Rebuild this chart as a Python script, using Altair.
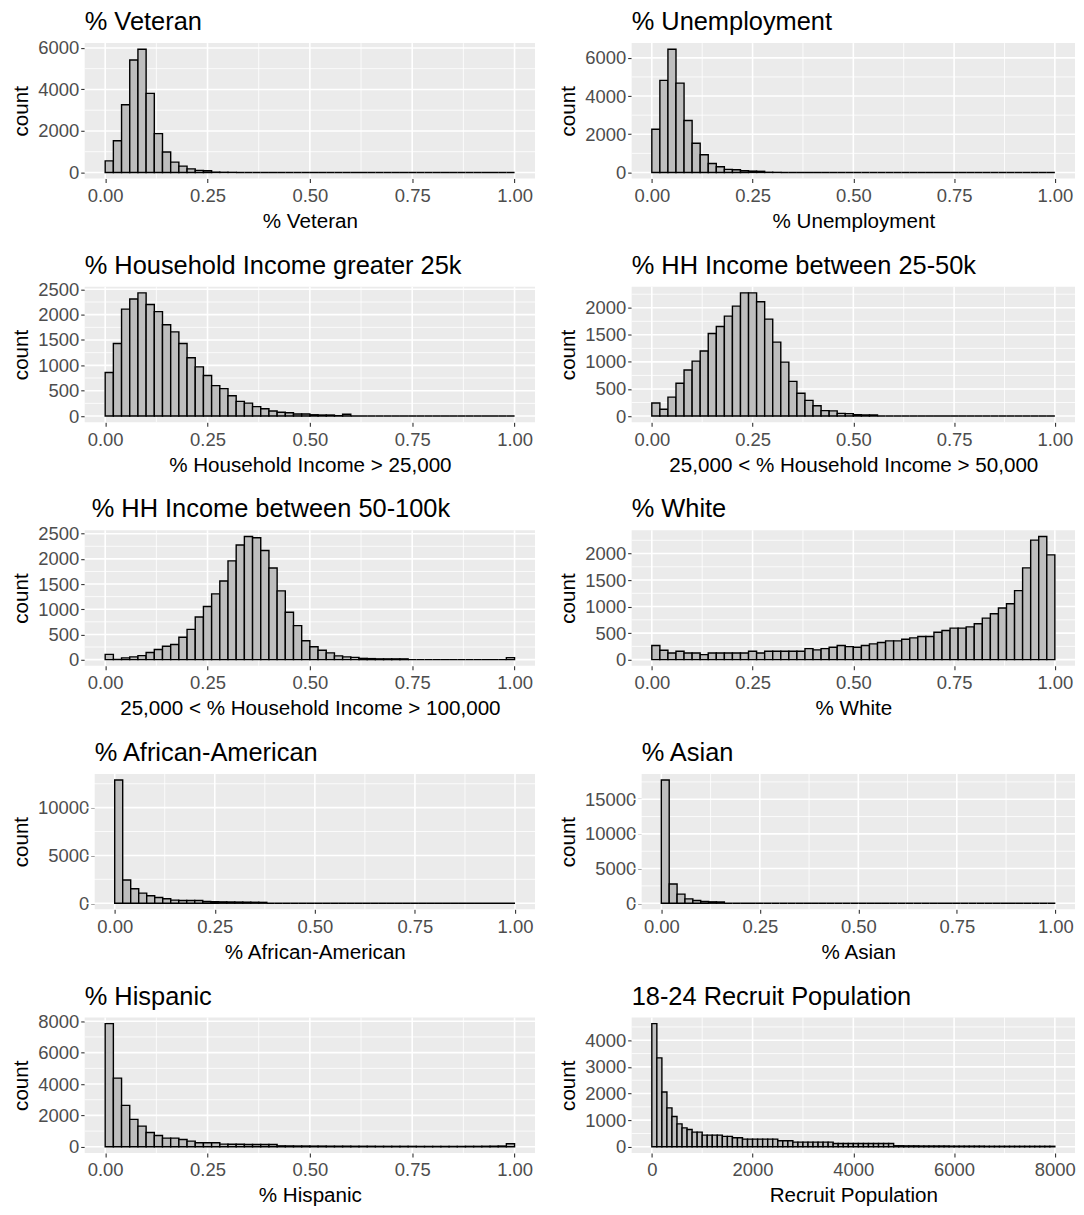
import altair as alt
import pandas as pd

FONT = "Liberation Sans"

# ---------------- counts per bin ----------------
# fraction panels: 50 bins of width 0.02 from 0 to 1
veteran = [560, 1530, 3260, 5420, 5935, 3810, 1870, 985, 500, 306,
           170, 100, 80, 15, 8, 5, 0, 0, 0, 0,
           0, 0, 0, 0, 0, 0, 0, 0, 0, 0,
           0, 0, 0, 0, 0, 0, 0, 0, 0, 0,
           0, 0, 0, 0, 0, 0, 0, 0, 0, 0]
unemployment = [2260, 4820, 6450, 4680, 2720, 1530, 930, 470, 300, 160,
                140, 90, 70, 60, 10, 5, 0, 0, 0, 0,
                0, 0, 0, 0, 0, 0, 0, 0, 0, 0,
                0, 0, 0, 0, 0, 0, 0, 0, 0, 0,
                0, 0, 0, 0, 0, 0, 0, 0, 0, 0]
hh_gt25 = [860, 1430, 2110, 2310, 2430, 2200, 2060, 1800, 1660, 1430,
           1150, 970, 800, 600, 540, 400, 290, 255, 185, 145,
           100, 75, 65, 40, 40, 25, 20, 20, 5, 35,
           0, 0, 0, 0, 0, 0, 0, 0, 0, 0,
           0, 0, 0, 0, 0, 0, 0, 0, 0, 0]
hh_25_50 = [240, 125, 350, 605, 850, 1015, 1200, 1525, 1655, 1845,
            2030, 2275, 2275, 2110, 1790, 1365, 995, 640, 420, 290,
            190, 100, 95, 50, 45, 25, 20, 20, 0, 0,
            0, 0, 0, 0, 0, 0, 0, 0, 0, 0,
            0, 0, 0, 0, 0, 0, 0, 0, 0, 0]
hh_50_100 = [105, 5, 35, 55, 80, 140, 200, 265, 300, 445,
             600, 845, 1055, 1305, 1560, 1960, 2275, 2445, 2420, 2165,
             1820, 1365, 940, 675, 375, 255, 185, 135, 75, 55,
             45, 25, 20, 15, 15, 15, 15, 0, 0, 0,
             0, 0, 0, 0, 0, 0, 0, 0, 0, 40]
white = [265, 177, 126, 158, 126, 126, 95, 126, 126, 126,
         126, 126, 158, 126, 158, 158, 158, 158, 158, 208,
         183, 208, 233, 265, 246, 233, 265, 297, 322, 353,
         353, 385, 410, 435, 435, 517, 549, 593, 593, 618,
         675, 782, 864, 972, 1054, 1300, 1729, 2252, 2322, 1975]
african_american = [12890, 2430, 1510, 1060, 775, 600, 460, 320, 280, 280,
                    280, 175, 150, 140, 130, 120, 110, 100, 90, 0,
                    0, 0, 0, 0, 0, 0, 0, 0, 0, 0,
                    0, 0, 0, 0, 0, 0, 0, 0, 0, 0,
                    0, 0, 0, 0, 0, 0, 0, 0, 0, 0]
asian = [17770, 2770, 1310, 630, 390, 240, 200, 180, 0, 0,
         0, 0, 0, 0, 0, 0, 0, 0, 0, 0,
         0, 0, 0, 0, 0, 0, 0, 0, 0, 0,
         0, 0, 0, 0, 0, 0, 0, 0, 0, 0,
         0, 0, 0, 0, 0, 0, 0, 0, 0, 0]
hispanic = [7850, 4380, 2640, 1745, 1320, 915, 723, 553, 553, 468,
            362, 255, 255, 255, 170, 160, 160, 150, 150, 150,
            150, 60, 55, 50, 50, 45, 45, 40, 40, 40,
            35, 35, 35, 30, 30, 30, 30, 30, 25, 25,
            25, 25, 25, 25, 30, 30, 35, 40, 50, 190]
# recruit population: 80 bins of width 100 from 0 to 8000
recruit = [4625, 3340, 2060, 1460, 1140, 860, 710, 650, 550, 550,
           440, 440, 440, 440, 390, 390, 340, 340, 290, 290,
           290, 290, 290, 290, 290, 225, 225, 225, 175, 175,
           175, 175, 175, 175, 175, 175, 125, 125, 125, 125,
           125, 125, 125, 125, 125, 125, 125, 125, 40, 40,
           35, 35, 35, 30, 30, 30, 30, 30, 30, 25,
           25, 25, 25, 25, 25, 25, 20, 20, 20, 20,
           20, 20, 20, 20, 20, 20, 20, 20, 20, 20]

FRAC_BIN = 0.02
RECRUIT_BIN = 100

frac_ticks = [0, 0.25, 0.5, 0.75, 1.0]
recruit_ticks = [0, 2000, 4000, 6000, 8000]

yt_veteran = [0, 2000, 4000, 6000]
yt_unemp = [0, 2000, 4000, 6000]
yt_gt25 = [0, 500, 1000, 1500, 2000, 2500]
yt_25_50 = [0, 500, 1000, 1500, 2000]
yt_50_100 = [0, 500, 1000, 1500, 2000, 2500]
yt_white = [0, 500, 1000, 1500, 2000]
yt_afam = [0, 5000, 10000]
yt_asian = [0, 5000, 10000, 15000]
yt_hisp = [0, 2000, 4000, 6000, 8000]
yt_recruit = [0, 1000, 2000, 3000, 4000]

PANEL_H = 136
LEFT_W = 452
RIGHT_W = 445
GRID_BG = "#EBEBEB"
TITLE_SIZE = 25.5
AXIS_TITLE_SIZE = 20.7
TICK_SIZE = 18.5


def minor_breaks(major, lo, hi):
    step = major[1] - major[0]
    ext = [major[0] - step] + list(major) + [major[-1] + step]
    mids = [(a + b) / 2 for a, b in zip(ext[:-1], ext[1:])]
    return [m for m in mids if lo <= m <= hi]


def panel(counts, binw, title, xtitle, xticks, xfmt, yticks, W,
          inset=0, title_dx=0):
    """inset: extra room taken by wider y labels (plot area starts further right)."""
    H = PANEL_H
    n = len(counts)
    df = pd.DataFrame({
        "lo": [i * binw for i in range(n)],
        "hi": [(i + 1) * binw for i in range(n)],
        "count": counts,
    })
    top = max(counts)
    span = n * binw
    xdom = [-0.05 * span, 1.05 * span]
    ydom = [-0.05 * top, 1.05 * top]
    xs = alt.Scale(domain=xdom, nice=False, zero=False, range=[inset, W])
    ys = alt.Scale(domain=ydom, nice=False, zero=False)

    xaxis = alt.Axis(
        values=xticks, format=xfmt, title=xtitle, grid=False,
        domain=False, ticks=True, tickColor="#333333", tickSize=4, tickWidth=1.1,
        labelColor="#4D4D4D", labelFont=FONT, labelFontSize=TICK_SIZE,
        labelPadding=4, labelFlush=False, labelOverlap=False,
        titleFont=FONT, titleFontSize=AXIS_TITLE_SIZE, titleFontWeight="normal",
        titleColor="black", titlePadding=6.5,
    )
    yaxis = alt.Axis(
        values=yticks, format="d", title="count", grid=False,
        domain=False, ticks=True, tickColor="#333333", tickSize=4, tickWidth=1.1,
        labelColor="#4D4D4D", labelFont=FONT, labelFontSize=TICK_SIZE,
        labelPadding=2, labelOverlap=False, offset=-inset,
        titleFont=FONT, titleFontSize=AXIS_TITLE_SIZE, titleFontWeight="normal",
        titleColor="black", titleAngle=270, titleAlign="center",
        titleBaseline="middle", titleX=-63 - inset, titleY=H / 2,
    )

    one = pd.DataFrame({"k": [0]})
    bg = alt.Chart(one).mark_rect(fill=GRID_BG).encode(
        x=alt.value(inset), x2=alt.value(W), y=alt.value(0), y2=alt.value(H)
    )
    vminor = alt.Chart(pd.DataFrame({"v": minor_breaks(xticks, *xdom)})).mark_rule(
        color="white", strokeWidth=0.8
    ).encode(x=alt.X("v:Q", scale=xs, axis=xaxis))
    hminor = alt.Chart(pd.DataFrame({"v": minor_breaks(yticks, *ydom)})).mark_rule(
        color="white", strokeWidth=0.8
    ).encode(y=alt.Y("v:Q", scale=ys, axis=yaxis))
    vmajor = alt.Chart(pd.DataFrame({"v": xticks})).mark_rule(
        color="white", strokeWidth=1.6
    ).encode(x=alt.X("v:Q", scale=xs, axis=xaxis))
    hmajor = alt.Chart(pd.DataFrame({"v": yticks})).mark_rule(
        color="white", strokeWidth=1.6
    ).encode(y=alt.Y("v:Q", scale=ys, axis=yaxis))
    bars = alt.Chart(df).mark_rect(
        fill="#BEBEBE", stroke="black", strokeWidth=1.4
    ).encode(
        x=alt.X("lo:Q", scale=xs, axis=xaxis),
        x2="hi:Q",
        y=alt.Y("count:Q", scale=ys, axis=yaxis),
        y2=alt.datum(0),
    )
    ttl = alt.Chart(one).mark_text(
        align="left", baseline="alphabetic", font=FONT, fontSize=TITLE_SIZE,
        color="black",
    ).encode(x=alt.value(inset + title_dx), y=alt.value(-13), text=alt.value(title))
    return alt.layer(bg, vminor, hminor, vmajor, hmajor, bars, ttl).properties(
        width=W, height=H
    )


rows = [
    (panel(veteran, FRAC_BIN, "% Veteran", "% Veteran", frac_ticks, ".2f", yt_veteran, LEFT_W),
     panel(unemployment, FRAC_BIN, "% Unemployment", "% Unemployment", frac_ticks, ".2f",
           yt_unemp, RIGHT_W)),
    (panel(hh_gt25, FRAC_BIN, "% Household Income greater 25k", "% Household Income > 25,000",
           frac_ticks, ".2f", yt_gt25, LEFT_W),
     panel(hh_25_50, FRAC_BIN, "% HH Income between 25-50k", "25,000 < % Household Income > 50,000",
           frac_ticks, ".2f", yt_25_50, RIGHT_W)),
    (panel(hh_50_100, FRAC_BIN, "% HH Income between 50-100k", "25,000 < % Household Income > 100,000",
           frac_ticks, ".2f", yt_50_100, LEFT_W, title_dx=7),
     panel(white, FRAC_BIN, "% White", "% White", frac_ticks, ".2f", yt_white, RIGHT_W)),
    (panel(african_american, FRAC_BIN, "% African-American", "% African-American",
           frac_ticks, ".2f", yt_afam, LEFT_W, inset=10),
     panel(asian, FRAC_BIN, "% Asian", "% Asian", frac_ticks, ".2f", yt_asian, RIGHT_W, inset=10)),
    (panel(hispanic, FRAC_BIN, "% Hispanic", "% Hispanic", frac_ticks, ".2f", yt_hisp, LEFT_W),
     panel(recruit, RECRUIT_BIN, "18-24 Recruit Population", "Recruit Population",
           recruit_ticks, "d", yt_recruit, RIGHT_W)),
]

chart = alt.vconcat(
    *[alt.hconcat(a, b, spacing=22) for a, b in rows], spacing=22.5
).properties(
    padding={"left": 3, "top": 0, "right": 0, "bottom": 0}
).configure_view(strokeWidth=0)

chart.save("out.html", embed_options={"renderer": "svg", "actions": False})
